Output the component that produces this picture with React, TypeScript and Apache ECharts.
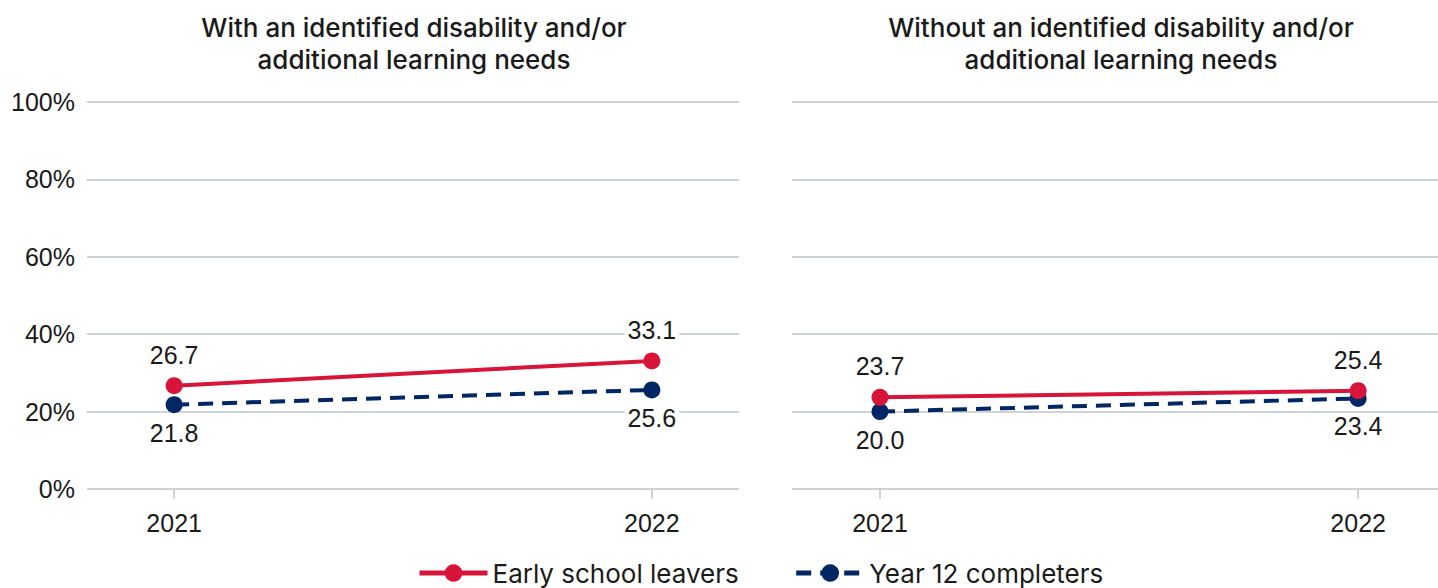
import React, { useEffect, useRef } from "react";
import * as echarts from "echarts";

const years = ["2021", "2022"];
const yTicks = [0, 20, 40, 60, 80, 100];
const withEarly = [26.7, 33.1];
const withY12 = [21.8, 25.6];
const withoutEarly = [23.7, 25.4];
const withoutY12 = [20.0, 23.4];
const panelTitles = [
  "With an identified disability and/or\nadditional learning needs",
  "Without an identified disability and/or\nadditional learning needs",
];
const seriesNames = ["Early school leavers", "Year 12 completers"];

const RED = "#D7153A";
const NAVY = "#002664";
const GRID = "#CDD3D6";
const NUM_FONT = "Liberation Sans";
const TXT_FONT = "Inter";

export default function App() {
  const ref = useRef<HTMLDivElement>(null);
  useEffect(() => {
    if (!ref.current) return;
    const chart = echarts.init(ref.current, undefined, { renderer: "svg" });
    const toPts = (arr: number[]) => arr.map((v, i) => [i, v]);
    const labelCommon = {
      show: true,
      fontFamily: NUM_FONT,
      fontSize: 25,
      color: "#1a1a1a",
      backgroundColor: "#ffffff",
      padding: [0, 3],
      formatter: (p: any) => Number(p.value[1]).toFixed(1),
    };
    const mkSeries = (idx: number, early: number[], y12: number[]) => [
      {
        name: seriesNames[1],
        type: "line",
        xAxisIndex: idx,
        yAxisIndex: idx,
        data: toPts(y12),
        symbol: "circle",
        symbolSize: 17,
        itemStyle: { color: NAVY },
        lineStyle: { color: NAVY, width: 4, type: [15, 9] },
        label: { ...labelCommon, position: "bottom", distance: 7 },
        z: 3,
      },
      {
        name: seriesNames[0],
        type: "line",
        xAxisIndex: idx,
        yAxisIndex: idx,
        data: toPts(early),
        symbol: "circle",
        symbolSize: 17,
        itemStyle: { color: RED },
        lineStyle: { color: RED, width: 4 },
        label: { ...labelCommon, position: "top", distance: 10 },
        z: 4,
      },
    ];
    const mkX = (idx: number, min: number, max: number) => ({
      type: "value",
      gridIndex: idx,
      min,
      max,
      splitLine: { show: false },
      axisLine: { show: false },
      axisTick: {
        show: true,
        customValues: [0, 1],
        length: 10,
        lineStyle: { color: GRID, width: 2 },
      },
      axisLabel: {
        customValues: [0, 1],
        formatter: (v: number) => years[Math.round(v)] ?? "",
        fontFamily: NUM_FONT,
        fontSize: 25,
        color: "#1a1a1a",
        margin: 21,
      },
    });
    const mkY = (idx: number, showLabels: boolean) => ({
      type: "value",
      gridIndex: idx,
      min: yTicks[0],
      max: yTicks[yTicks.length - 1],
      interval: 20,
      axisLine: { show: false },
      axisTick: { show: false },
      splitLine: { show: true, lineStyle: { color: GRID, width: 2 } },
      axisLabel: {
        show: showLabels,
        formatter: "{value}%",
        fontFamily: NUM_FONT,
        fontSize: 25,
        color: "#1a1a1a",
        margin: 12,
      },
    });
    const titleStyle = {
      fontFamily: TXT_FONT,
      fontSize: 26,
      fontWeight: 500,
      lineHeight: 32,
      color: "#1a1a1a",
    };
    chart.setOption({
      animation: false,
      backgroundColor: "#ffffff",
      title: [
        { text: panelTitles[0], left: 409, top: 6, textAlign: "center", textStyle: titleStyle },
        { text: panelTitles[1], left: 1116, top: 6, textAlign: "center", textStyle: titleStyle },
      ],
      legend: {
        data: seriesNames,
        left: 412,
        top: 555,
        itemWidth: 68,
        itemHeight: 22,
        itemGap: 55,
        lineStyle: { width: 5 },
        textStyle: { fontFamily: TXT_FONT, fontSize: 26, color: "#1a1a1a" },
      },
      grid: [
        { left: 87, right: 699, top: 102, bottom: 99, containLabel: false },
        { left: 792, right: 0, top: 102, bottom: 99, containLabel: false },
      ],
      xAxis: [mkX(0, -0.1824, 1.1824), mkX(1, -0.184, 1.167)],
      yAxis: [mkY(0, true), mkY(1, false)],
      series: [...mkSeries(0, withEarly, withY12), ...mkSeries(1, withoutEarly, withoutY12)],
    });
    return () => chart.dispose();
  }, []);
  return (
    <div
      ref={ref}
      style={{ position: "absolute", left: 0, top: 0, width: 1438, height: 588 }}
    />
  );
}
